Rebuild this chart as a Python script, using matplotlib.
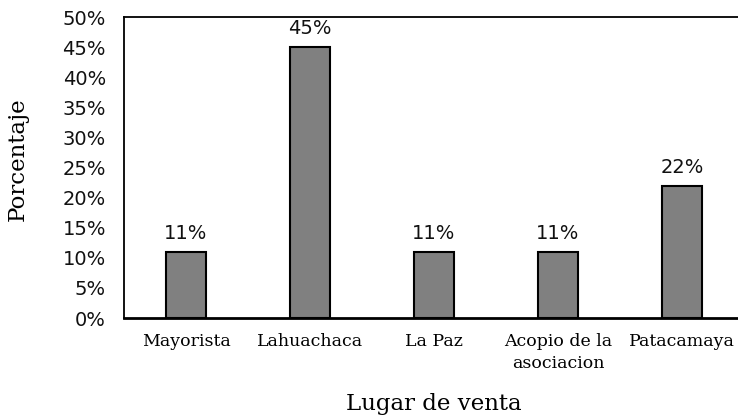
import matplotlib.pyplot as plt
from matplotlib.ticker import PercentFormatter

lugares = ['Mayorista', 'Lahuachaca', 'La Paz', 'Acopio de la\nasociacion', 'Patacamaya']
porcentaje = [11, 45, 11, 11, 22]
yticks = [0, 5, 10, 15, 20, 25, 30, 35, 40, 45, 50]

fig = plt.figure(figsize=(7.38, 4.17), dpi=100)
# axes run past the right edge, as in the reference
ax = fig.add_axes([124 / 738, 1 - 318 / 417, 620 / 738, 301 / 417])

x = range(len(lugares))
bars = ax.bar(x, porcentaje, width=0.315, color='#808080', edgecolor='black', linewidth=1.5)

for xi, v in zip(x, porcentaje):
    ax.text(xi, v + 1.5, f'{v}%', ha='center', va='bottom',
            fontsize=14, family='DejaVu Sans', color='#111111')

ax.set_xlim(-0.5, 4.5)
ax.set_ylim(0, 50)
ax.set_yticks(yticks)
ax.yaxis.set_major_formatter(PercentFormatter(decimals=0))
ax.set_xticks(list(x))
ax.set_xticklabels(lugares, family='DejaVu Serif', fontsize=12.5, linespacing=1.35)
for lab in ax.get_yticklabels():
    lab.set_family('DejaVu Sans')
    lab.set_fontsize(14)
    lab.set_color('#111111')
ax.tick_params(axis='both', length=0)
ax.tick_params(axis='y', pad=13)
ax.tick_params(axis='x', pad=11)

ax.spines['right'].set_visible(False)
ax.spines['top'].set_linewidth(1.3)
ax.spines['left'].set_linewidth(1.3)
ax.spines['bottom'].set_linewidth(2)

fig.text(18 / 738, 1 - 159 / 417, 'Porcentaje', rotation=90, ha='center', va='center',
         family='DejaVu Serif', fontsize=16.5)
fig.text(434 / 738, 1 - 404 / 417, 'Lugar de venta', ha='center', va='center',
         family='DejaVu Serif', fontsize=16.5)

fig.savefig('out.png', dpi=100)
